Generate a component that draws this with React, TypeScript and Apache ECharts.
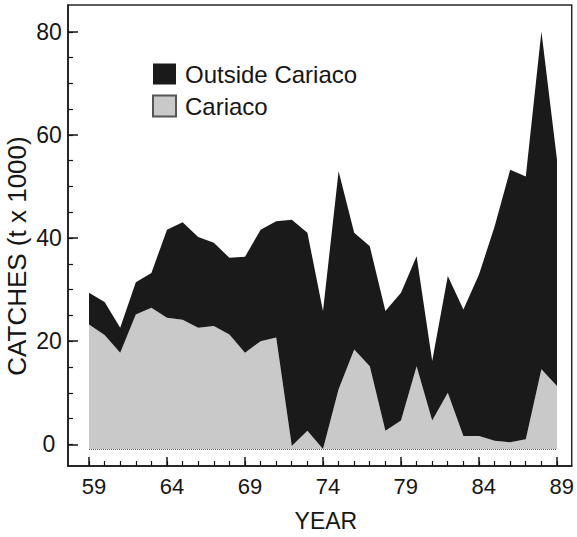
import React, { useEffect, useRef } from "react";
import * as echarts from "echarts";

const years = [1959,1960,1961,1962,1963,1964,1965,1966,1967,1968,1969,1970,1971,1972,1973,1974,1975,1976,1977,1978,1979,1980,1981,1982,1983,1984,1985,1986,1987,1988,1989];
const cariaco = [23.9,21.9,18.5,25.8,27.1,25.2,24.8,23.3,23.6,22.0,18.5,20.7,21.4,0.6,3.5,0.0,11.5,19.1,15.9,3.5,5.5,15.9,5.5,10.8,2.5,2.5,1.6,1.3,1.9,15.3,12.1];
const outside = [6.1,6.3,4.8,6.2,6.7,16.9,18.7,17.4,16.0,14.7,18.4,21.4,22.3,43.4,38.0,26.5,41.8,22.4,23.0,23.0,24.5,21.1,11.4,22.4,24.3,31.0,41.1,52.3,50.4,64.8,43.4];
const yearTickLabels = [59, 64, 69, 74, 79, 84, 89];
const yTickLabels = [0, 20, 40, 60, 80];
const yMinorTicks = [0,5,10,15,20,25,30,35,40,45,50,55,60,65,70,75,80];

const FONT = "Liberation Sans, Arial, Helvetica, sans-serif";
const INK = "#161616";

export default function App() {
  const ref = useRef<HTMLDivElement>(null);
  useEffect(() => {
    if (!ref.current) return;
    const chart = echarts.init(ref.current, undefined, { renderer: "svg" });
    const short = years.map((y) => y - 1900);
    const yMin = -4.2;
    const yMax = 85.2;
    chart.setOption({
      animation: false,
      backgroundColor: "#ffffff",
      textStyle: { fontFamily: FONT },
      grid: [
        { left: 68, top: 5, right: 5, bottom: 66, show: true, borderColor: "#2a2a2a", borderWidth: 1.5, backgroundColor: "transparent", z: 5 },
        { left: 89, top: 5, right: 20, bottom: 66, show: false },
      ],
      legend: {
        orient: "vertical",
        left: 147,
        top: 57,
        itemWidth: 23,
        itemHeight: 21,
        itemGap: 8,
        icon: "rect",
        data: ["Outside Cariaco", "Cariaco"],
        textStyle: { fontSize: 24, color: INK, fontFamily: FONT, padding: [0, 0, 0, 4] },
      },
      graphic: [
        {
          type: "text",
          x: 17,
          y: 256,
          rotation: Math.PI / 2,
          style: {
            text: "CATCHES (t x 1000)",
            font: `26px ${FONT}`,
            fill: INK,
            textAlign: "center",
            textVerticalAlign: "middle",
          },
        },
      ],
      xAxis: [
        {
          gridIndex: 0,
          type: "value",
          min: 57.65,
          max: 89.96,
          name: "YEAR",
          nameLocation: "middle",
          nameGap: 43,
          nameTextStyle: { fontSize: 23, color: INK, fontFamily: FONT, padding: [0, 0, 0, 12] },
          axisLine: { show: true, onZero: false, lineStyle: { color: INK, width: 1.5 } },
          axisTick: { show: true, inside: true, length: 5, customValues: short, lineStyle: { color: INK, width: 1.2 } },
          axisLabel: { customValues: yearTickLabels, fontSize: 22, color: INK, margin: 9, fontFamily: FONT, padding: [0, 0, 0, 10] },
          splitLine: { show: false },
          z: 10,
        },
        {
          gridIndex: 0,
          type: "value",
          min: 57.65,
          max: 89.96,
          position: "bottom",
          axisLine: { show: false, onZero: false },
          axisTick: { show: true, inside: true, length: 9, customValues: yearTickLabels, lineStyle: { color: INK, width: 1.5 } },
          axisLabel: { show: false },
          splitLine: { show: false },
          z: 10,
        },
        {
          gridIndex: 1,
          type: "category",
          boundaryGap: false,
          data: short.map(String),
          show: false,
        },
      ],
      yAxis: [
        {
          gridIndex: 0,
          type: "value",
          min: yMin,
          max: yMax,
          axisLine: { show: true, onZero: false, lineStyle: { color: INK, width: 1.5 } },
          axisTick: { show: true, inside: true, length: 5, customValues: yMinorTicks, lineStyle: { color: INK, width: 1.2 } },
          axisLabel: { customValues: yTickLabels, fontSize: 23, color: INK, margin: 19, align: "center", fontFamily: FONT },
          splitLine: { show: false },
          z: 10,
        },
        {
          gridIndex: 0,
          type: "value",
          min: yMin,
          max: yMax,
          position: "left",
          axisLine: { show: false, onZero: false },
          axisTick: { show: true, inside: true, length: 10, customValues: yTickLabels, lineStyle: { color: INK, width: 1.5 } },
          axisLabel: { show: false },
          splitLine: { show: false },
          z: 10,
        },
        {
          gridIndex: 1,
          type: "value",
          min: yMin,
          max: yMax,
          show: false,
          splitLine: { show: false },
        },
      ],
      series: [
        {
          name: "Cariaco",
          type: "line",
          stack: "total",
          symbol: "none",
          xAxisIndex: 2,
          yAxisIndex: 2,
          data: cariaco,
          lineStyle: { width: 0 },
          itemStyle: { color: "#c9c9c9", borderColor: "#555", borderWidth: 1 },
          areaStyle: { color: "#c9c9c9", opacity: 1 },
          markLine: {
            silent: true,
            symbol: "none",
            label: { show: false },
            lineStyle: { type: "dotted", color: "#555", width: 1 },
            data: [{ yAxis: 0 }],
          },
        },
        {
          name: "Outside Cariaco",
          type: "line",
          stack: "total",
          symbol: "none",
          xAxisIndex: 2,
          yAxisIndex: 2,
          data: outside,
          lineStyle: { width: 0 },
          itemStyle: { color: "#1a1a1a" },
          areaStyle: { color: "#1a1a1a", opacity: 1 },
        },
      ],
    });
    return () => chart.dispose();
  }, []);
  return <div ref={ref} style={{ width: 577, height: 537, position: "absolute", left: 0, top: 0 }} />;
}
